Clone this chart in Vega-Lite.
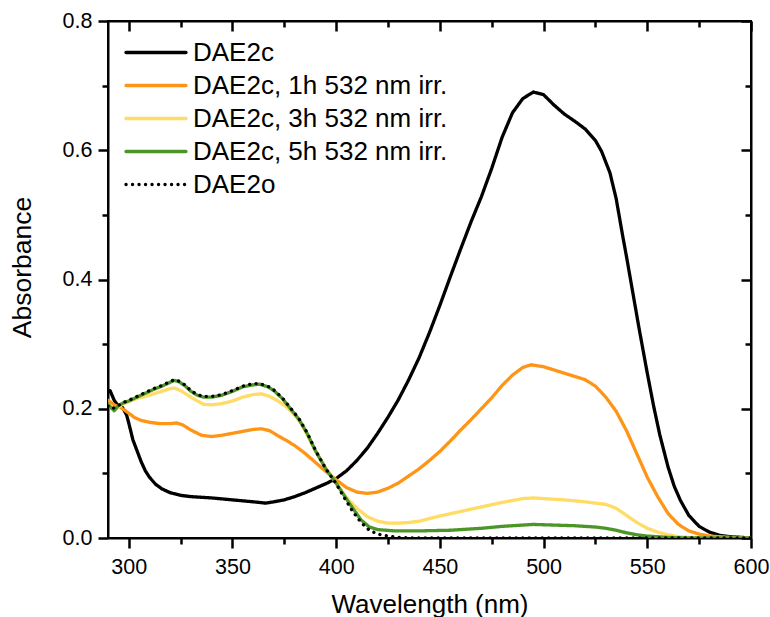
{
  "$schema": "https://vega.github.io/schema/vega-lite/v6.json",
  "autosize": {"type": "none"},
  "width": 643,
  "height": 517,
  "padding": {"left": 108, "top": 21, "right": 19, "bottom": 79},
  "config": {
    "font": "Liberation Sans",
    "view": {"stroke": "black", "strokeWidth": 2},
    "axis": {"grid": false, "tickWidth": 2.5}
  },
  "data": {"values": [
    {"series":"DAE2c","wavelength":290,"absorbance":0.226},{"series":"DAE2c","wavelength":291,"absorbance":0.228},{"series":"DAE2c","wavelength":293,"absorbance":0.213},{"series":"DAE2c","wavelength":295,"absorbance":0.204},{"series":"DAE2c","wavelength":297,"absorbance":0.202},{"series":"DAE2c","wavelength":299,"absorbance":0.19},{"series":"DAE2c","wavelength":300,"absorbance":0.178},{"series":"DAE2c","wavelength":302,"absorbance":0.152},{"series":"DAE2c","wavelength":304,"absorbance":0.135},{"series":"DAE2c","wavelength":306,"absorbance":0.118},{"series":"DAE2c","wavelength":308,"absorbance":0.104},{"series":"DAE2c","wavelength":310,"absorbance":0.094},{"series":"DAE2c","wavelength":313,"absorbance":0.083},{"series":"DAE2c","wavelength":316,"absorbance":0.076},{"series":"DAE2c","wavelength":320,"absorbance":0.07},{"series":"DAE2c","wavelength":325,"absorbance":0.066},{"series":"DAE2c","wavelength":330,"absorbance":0.064},{"series":"DAE2c","wavelength":340,"absorbance":0.062},{"series":"DAE2c","wavelength":350,"absorbance":0.059},{"series":"DAE2c","wavelength":360,"absorbance":0.056},{"series":"DAE2c","wavelength":366,"absorbance":0.054},{"series":"DAE2c","wavelength":370,"absorbance":0.056},{"series":"DAE2c","wavelength":375,"absorbance":0.059},{"series":"DAE2c","wavelength":380,"absorbance":0.064},{"series":"DAE2c","wavelength":385,"absorbance":0.07},{"series":"DAE2c","wavelength":390,"absorbance":0.077},{"series":"DAE2c","wavelength":395,"absorbance":0.084},{"series":"DAE2c","wavelength":400,"absorbance":0.092},{"series":"DAE2c","wavelength":405,"absorbance":0.104},{"series":"DAE2c","wavelength":410,"absorbance":0.12},{"series":"DAE2c","wavelength":415,"absorbance":0.139},{"series":"DAE2c","wavelength":420,"absorbance":0.162},{"series":"DAE2c","wavelength":425,"absorbance":0.187},{"series":"DAE2c","wavelength":430,"absorbance":0.214},{"series":"DAE2c","wavelength":435,"absorbance":0.245},{"series":"DAE2c","wavelength":440,"absorbance":0.279},{"series":"DAE2c","wavelength":445,"absorbance":0.318},{"series":"DAE2c","wavelength":450,"absorbance":0.36},{"series":"DAE2c","wavelength":455,"absorbance":0.404},{"series":"DAE2c","wavelength":460,"absorbance":0.447},{"series":"DAE2c","wavelength":465,"absorbance":0.489},{"series":"DAE2c","wavelength":470,"absorbance":0.528},{"series":"DAE2c","wavelength":475,"absorbance":0.572},{"series":"DAE2c","wavelength":480,"absorbance":0.62},{"series":"DAE2c","wavelength":485,"absorbance":0.658},{"series":"DAE2c","wavelength":490,"absorbance":0.68},{"series":"DAE2c","wavelength":495,"absorbance":0.69},{"series":"DAE2c","wavelength":500,"absorbance":0.686},{"series":"DAE2c","wavelength":505,"absorbance":0.67},{"series":"DAE2c","wavelength":510,"absorbance":0.656},{"series":"DAE2c","wavelength":515,"absorbance":0.645},{"series":"DAE2c","wavelength":520,"absorbance":0.633},{"series":"DAE2c","wavelength":525,"absorbance":0.615},{"series":"DAE2c","wavelength":528,"absorbance":0.598},{"series":"DAE2c","wavelength":532,"absorbance":0.565},{"series":"DAE2c","wavelength":535,"absorbance":0.525},{"series":"DAE2c","wavelength":538,"absorbance":0.47},{"series":"DAE2c","wavelength":540,"absorbance":0.435},{"series":"DAE2c","wavelength":543,"absorbance":0.38},{"series":"DAE2c","wavelength":546,"absorbance":0.325},{"series":"DAE2c","wavelength":550,"absorbance":0.255},{"series":"DAE2c","wavelength":553,"absorbance":0.205},{"series":"DAE2c","wavelength":556,"absorbance":0.16},{"series":"DAE2c","wavelength":560,"absorbance":0.11},{"series":"DAE2c","wavelength":563,"absorbance":0.08},{"series":"DAE2c","wavelength":566,"absorbance":0.058},{"series":"DAE2c","wavelength":570,"absorbance":0.035},{"series":"DAE2c","wavelength":575,"absorbance":0.018},{"series":"DAE2c","wavelength":580,"absorbance":0.009},{"series":"DAE2c","wavelength":585,"absorbance":0.004},{"series":"DAE2c","wavelength":590,"absorbance":0.002},{"series":"DAE2c","wavelength":600,"absorbance":0.0},

    {"series":"DAE2c, 1h 532 nm irr.","wavelength":290,"absorbance":0.213},{"series":"DAE2c, 1h 532 nm irr.","wavelength":293,"absorbance":0.206},{"series":"DAE2c, 1h 532 nm irr.","wavelength":296,"absorbance":0.202},{"series":"DAE2c, 1h 532 nm irr.","wavelength":298,"absorbance":0.198},{"series":"DAE2c, 1h 532 nm irr.","wavelength":300,"absorbance":0.193},{"series":"DAE2c, 1h 532 nm irr.","wavelength":303,"absorbance":0.186},{"series":"DAE2c, 1h 532 nm irr.","wavelength":306,"absorbance":0.182},{"series":"DAE2c, 1h 532 nm irr.","wavelength":310,"absorbance":0.179},{"series":"DAE2c, 1h 532 nm irr.","wavelength":315,"absorbance":0.177},{"series":"DAE2c, 1h 532 nm irr.","wavelength":320,"absorbance":0.177},{"series":"DAE2c, 1h 532 nm irr.","wavelength":323,"absorbance":0.178},{"series":"DAE2c, 1h 532 nm irr.","wavelength":326,"absorbance":0.175},{"series":"DAE2c, 1h 532 nm irr.","wavelength":330,"absorbance":0.167},{"series":"DAE2c, 1h 532 nm irr.","wavelength":335,"absorbance":0.159},{"series":"DAE2c, 1h 532 nm irr.","wavelength":340,"absorbance":0.157},{"series":"DAE2c, 1h 532 nm irr.","wavelength":345,"absorbance":0.159},{"series":"DAE2c, 1h 532 nm irr.","wavelength":350,"absorbance":0.162},{"series":"DAE2c, 1h 532 nm irr.","wavelength":355,"absorbance":0.165},{"series":"DAE2c, 1h 532 nm irr.","wavelength":360,"absorbance":0.168},{"series":"DAE2c, 1h 532 nm irr.","wavelength":364,"absorbance":0.169},{"series":"DAE2c, 1h 532 nm irr.","wavelength":368,"absorbance":0.166},{"series":"DAE2c, 1h 532 nm irr.","wavelength":372,"absorbance":0.158},{"series":"DAE2c, 1h 532 nm irr.","wavelength":376,"absorbance":0.151},{"series":"DAE2c, 1h 532 nm irr.","wavelength":380,"absorbance":0.143},{"series":"DAE2c, 1h 532 nm irr.","wavelength":385,"absorbance":0.131},{"series":"DAE2c, 1h 532 nm irr.","wavelength":390,"absorbance":0.117},{"series":"DAE2c, 1h 532 nm irr.","wavelength":395,"absorbance":0.103},{"series":"DAE2c, 1h 532 nm irr.","wavelength":400,"absorbance":0.09},{"series":"DAE2c, 1h 532 nm irr.","wavelength":405,"absorbance":0.078},{"series":"DAE2c, 1h 532 nm irr.","wavelength":410,"absorbance":0.071},{"series":"DAE2c, 1h 532 nm irr.","wavelength":415,"absorbance":0.069},{"series":"DAE2c, 1h 532 nm irr.","wavelength":420,"absorbance":0.071},{"series":"DAE2c, 1h 532 nm irr.","wavelength":425,"absorbance":0.077},{"series":"DAE2c, 1h 532 nm irr.","wavelength":430,"absorbance":0.085},{"series":"DAE2c, 1h 532 nm irr.","wavelength":435,"absorbance":0.096},{"series":"DAE2c, 1h 532 nm irr.","wavelength":440,"absorbance":0.107},{"series":"DAE2c, 1h 532 nm irr.","wavelength":445,"absorbance":0.12},{"series":"DAE2c, 1h 532 nm irr.","wavelength":450,"absorbance":0.134},{"series":"DAE2c, 1h 532 nm irr.","wavelength":455,"absorbance":0.15},{"series":"DAE2c, 1h 532 nm irr.","wavelength":460,"absorbance":0.167},{"series":"DAE2c, 1h 532 nm irr.","wavelength":465,"absorbance":0.183},{"series":"DAE2c, 1h 532 nm irr.","wavelength":470,"absorbance":0.2},{"series":"DAE2c, 1h 532 nm irr.","wavelength":475,"absorbance":0.217},{"series":"DAE2c, 1h 532 nm irr.","wavelength":480,"absorbance":0.236},{"series":"DAE2c, 1h 532 nm irr.","wavelength":485,"absorbance":0.252},{"series":"DAE2c, 1h 532 nm irr.","wavelength":490,"absorbance":0.264},{"series":"DAE2c, 1h 532 nm irr.","wavelength":494,"absorbance":0.268},{"series":"DAE2c, 1h 532 nm irr.","wavelength":500,"absorbance":0.265},{"series":"DAE2c, 1h 532 nm irr.","wavelength":505,"absorbance":0.26},{"series":"DAE2c, 1h 532 nm irr.","wavelength":510,"absorbance":0.255},{"series":"DAE2c, 1h 532 nm irr.","wavelength":515,"absorbance":0.25},{"series":"DAE2c, 1h 532 nm irr.","wavelength":520,"absorbance":0.245},{"series":"DAE2c, 1h 532 nm irr.","wavelength":525,"absorbance":0.235},{"series":"DAE2c, 1h 532 nm irr.","wavelength":530,"absorbance":0.218},{"series":"DAE2c, 1h 532 nm irr.","wavelength":535,"absorbance":0.196},{"series":"DAE2c, 1h 532 nm irr.","wavelength":540,"absorbance":0.166},{"series":"DAE2c, 1h 532 nm irr.","wavelength":545,"absorbance":0.13},{"series":"DAE2c, 1h 532 nm irr.","wavelength":550,"absorbance":0.094},{"series":"DAE2c, 1h 532 nm irr.","wavelength":555,"absorbance":0.064},{"series":"DAE2c, 1h 532 nm irr.","wavelength":560,"absorbance":0.038},{"series":"DAE2c, 1h 532 nm irr.","wavelength":565,"absorbance":0.021},{"series":"DAE2c, 1h 532 nm irr.","wavelength":570,"absorbance":0.011},{"series":"DAE2c, 1h 532 nm irr.","wavelength":575,"absorbance":0.006},{"series":"DAE2c, 1h 532 nm irr.","wavelength":580,"absorbance":0.003},{"series":"DAE2c, 1h 532 nm irr.","wavelength":590,"absorbance":0.001},{"series":"DAE2c, 1h 532 nm irr.","wavelength":600,"absorbance":0.0},

    {"series":"DAE2c, 3h 532 nm irr.","wavelength":290,"absorbance":0.207},{"series":"DAE2c, 3h 532 nm irr.","wavelength":292,"absorbance":0.202},{"series":"DAE2c, 3h 532 nm irr.","wavelength":294,"absorbance":0.2},{"series":"DAE2c, 3h 532 nm irr.","wavelength":297,"absorbance":0.207},{"series":"DAE2c, 3h 532 nm irr.","wavelength":300,"absorbance":0.211},{"series":"DAE2c, 3h 532 nm irr.","wavelength":304,"absorbance":0.216},{"series":"DAE2c, 3h 532 nm irr.","wavelength":308,"absorbance":0.219},{"series":"DAE2c, 3h 532 nm irr.","wavelength":312,"absorbance":0.223},{"series":"DAE2c, 3h 532 nm irr.","wavelength":316,"absorbance":0.227},{"series":"DAE2c, 3h 532 nm irr.","wavelength":320,"absorbance":0.231},{"series":"DAE2c, 3h 532 nm irr.","wavelength":322,"absorbance":0.232},{"series":"DAE2c, 3h 532 nm irr.","wavelength":325,"absorbance":0.228},{"series":"DAE2c, 3h 532 nm irr.","wavelength":328,"absorbance":0.222},{"series":"DAE2c, 3h 532 nm irr.","wavelength":332,"absorbance":0.214},{"series":"DAE2c, 3h 532 nm irr.","wavelength":336,"absorbance":0.207},{"series":"DAE2c, 3h 532 nm irr.","wavelength":340,"absorbance":0.206},{"series":"DAE2c, 3h 532 nm irr.","wavelength":345,"absorbance":0.208},{"series":"DAE2c, 3h 532 nm irr.","wavelength":350,"absorbance":0.212},{"series":"DAE2c, 3h 532 nm irr.","wavelength":355,"absorbance":0.218},{"series":"DAE2c, 3h 532 nm irr.","wavelength":360,"absorbance":0.222},{"series":"DAE2c, 3h 532 nm irr.","wavelength":364,"absorbance":0.223},{"series":"DAE2c, 3h 532 nm irr.","wavelength":368,"absorbance":0.219},{"series":"DAE2c, 3h 532 nm irr.","wavelength":372,"absorbance":0.212},{"series":"DAE2c, 3h 532 nm irr.","wavelength":376,"absorbance":0.203},{"series":"DAE2c, 3h 532 nm irr.","wavelength":380,"absorbance":0.19},{"series":"DAE2c, 3h 532 nm irr.","wavelength":383,"absorbance":0.178},{"series":"DAE2c, 3h 532 nm irr.","wavelength":386,"absorbance":0.16},{"series":"DAE2c, 3h 532 nm irr.","wavelength":390,"absorbance":0.135},{"series":"DAE2c, 3h 532 nm irr.","wavelength":395,"absorbance":0.108},{"series":"DAE2c, 3h 532 nm irr.","wavelength":400,"absorbance":0.085},{"series":"DAE2c, 3h 532 nm irr.","wavelength":403,"absorbance":0.071},{"series":"DAE2c, 3h 532 nm irr.","wavelength":406,"absorbance":0.059},{"series":"DAE2c, 3h 532 nm irr.","wavelength":410,"absorbance":0.046},{"series":"DAE2c, 3h 532 nm irr.","wavelength":415,"absorbance":0.033},{"series":"DAE2c, 3h 532 nm irr.","wavelength":420,"absorbance":0.026},{"series":"DAE2c, 3h 532 nm irr.","wavelength":425,"absorbance":0.023},{"series":"DAE2c, 3h 532 nm irr.","wavelength":430,"absorbance":0.023},{"series":"DAE2c, 3h 532 nm irr.","wavelength":435,"absorbance":0.024},{"series":"DAE2c, 3h 532 nm irr.","wavelength":440,"absorbance":0.026},{"series":"DAE2c, 3h 532 nm irr.","wavelength":450,"absorbance":0.034},{"series":"DAE2c, 3h 532 nm irr.","wavelength":460,"absorbance":0.041},{"series":"DAE2c, 3h 532 nm irr.","wavelength":470,"absorbance":0.048},{"series":"DAE2c, 3h 532 nm irr.","wavelength":480,"absorbance":0.055},{"series":"DAE2c, 3h 532 nm irr.","wavelength":490,"absorbance":0.061},{"series":"DAE2c, 3h 532 nm irr.","wavelength":495,"absorbance":0.062},{"series":"DAE2c, 3h 532 nm irr.","wavelength":500,"absorbance":0.061},{"series":"DAE2c, 3h 532 nm irr.","wavelength":510,"absorbance":0.059},{"series":"DAE2c, 3h 532 nm irr.","wavelength":520,"absorbance":0.056},{"series":"DAE2c, 3h 532 nm irr.","wavelength":530,"absorbance":0.052},{"series":"DAE2c, 3h 532 nm irr.","wavelength":535,"absorbance":0.046},{"series":"DAE2c, 3h 532 nm irr.","wavelength":540,"absorbance":0.035},{"series":"DAE2c, 3h 532 nm irr.","wavelength":545,"absorbance":0.024},{"series":"DAE2c, 3h 532 nm irr.","wavelength":550,"absorbance":0.015},{"series":"DAE2c, 3h 532 nm irr.","wavelength":555,"absorbance":0.009},{"series":"DAE2c, 3h 532 nm irr.","wavelength":560,"absorbance":0.005},{"series":"DAE2c, 3h 532 nm irr.","wavelength":565,"absorbance":0.002},{"series":"DAE2c, 3h 532 nm irr.","wavelength":570,"absorbance":0.001},{"series":"DAE2c, 3h 532 nm irr.","wavelength":580,"absorbance":0.0},{"series":"DAE2c, 3h 532 nm irr.","wavelength":600,"absorbance":0.0},

    {"series":"DAE2c, 5h 532 nm irr.","wavelength":290,"absorbance":0.207},{"series":"DAE2c, 5h 532 nm irr.","wavelength":291,"absorbance":0.203},{"series":"DAE2c, 5h 532 nm irr.","wavelength":293,"absorbance":0.197},{"series":"DAE2c, 5h 532 nm irr.","wavelength":295,"absorbance":0.205},{"series":"DAE2c, 5h 532 nm irr.","wavelength":298,"absorbance":0.21},{"series":"DAE2c, 5h 532 nm irr.","wavelength":300,"absorbance":0.212},{"series":"DAE2c, 5h 532 nm irr.","wavelength":304,"absorbance":0.218},{"series":"DAE2c, 5h 532 nm irr.","wavelength":308,"absorbance":0.224},{"series":"DAE2c, 5h 532 nm irr.","wavelength":312,"absorbance":0.23},{"series":"DAE2c, 5h 532 nm irr.","wavelength":316,"absorbance":0.235},{"series":"DAE2c, 5h 532 nm irr.","wavelength":320,"absorbance":0.241},{"series":"DAE2c, 5h 532 nm irr.","wavelength":322,"absorbance":0.244},{"series":"DAE2c, 5h 532 nm irr.","wavelength":324,"absorbance":0.242},{"series":"DAE2c, 5h 532 nm irr.","wavelength":327,"absorbance":0.236},{"series":"DAE2c, 5h 532 nm irr.","wavelength":330,"absorbance":0.227},{"series":"DAE2c, 5h 532 nm irr.","wavelength":333,"absorbance":0.221},{"series":"DAE2c, 5h 532 nm irr.","wavelength":336,"absorbance":0.218},{"series":"DAE2c, 5h 532 nm irr.","wavelength":340,"absorbance":0.218},{"series":"DAE2c, 5h 532 nm irr.","wavelength":345,"absorbance":0.221},{"series":"DAE2c, 5h 532 nm irr.","wavelength":350,"absorbance":0.227},{"series":"DAE2c, 5h 532 nm irr.","wavelength":355,"absorbance":0.234},{"series":"DAE2c, 5h 532 nm irr.","wavelength":360,"absorbance":0.237},{"series":"DAE2c, 5h 532 nm irr.","wavelength":363,"absorbance":0.238},{"series":"DAE2c, 5h 532 nm irr.","wavelength":367,"absorbance":0.234},{"series":"DAE2c, 5h 532 nm irr.","wavelength":370,"absorbance":0.228},{"series":"DAE2c, 5h 532 nm irr.","wavelength":374,"absorbance":0.216},{"series":"DAE2c, 5h 532 nm irr.","wavelength":378,"absorbance":0.2},{"series":"DAE2c, 5h 532 nm irr.","wavelength":382,"absorbance":0.184},{"series":"DAE2c, 5h 532 nm irr.","wavelength":386,"absorbance":0.162},{"series":"DAE2c, 5h 532 nm irr.","wavelength":390,"absorbance":0.135},{"series":"DAE2c, 5h 532 nm irr.","wavelength":395,"absorbance":0.107},{"series":"DAE2c, 5h 532 nm irr.","wavelength":400,"absorbance":0.085},{"series":"DAE2c, 5h 532 nm irr.","wavelength":404,"absorbance":0.065},{"series":"DAE2c, 5h 532 nm irr.","wavelength":408,"absorbance":0.046},{"series":"DAE2c, 5h 532 nm irr.","wavelength":412,"absorbance":0.028},{"series":"DAE2c, 5h 532 nm irr.","wavelength":416,"absorbance":0.017},{"series":"DAE2c, 5h 532 nm irr.","wavelength":420,"absorbance":0.013},{"series":"DAE2c, 5h 532 nm irr.","wavelength":428,"absorbance":0.011},{"series":"DAE2c, 5h 532 nm irr.","wavelength":440,"absorbance":0.011},{"series":"DAE2c, 5h 532 nm irr.","wavelength":455,"absorbance":0.012},{"series":"DAE2c, 5h 532 nm irr.","wavelength":470,"absorbance":0.015},{"series":"DAE2c, 5h 532 nm irr.","wavelength":480,"absorbance":0.018},{"series":"DAE2c, 5h 532 nm irr.","wavelength":490,"absorbance":0.02},{"series":"DAE2c, 5h 532 nm irr.","wavelength":495,"absorbance":0.021},{"series":"DAE2c, 5h 532 nm irr.","wavelength":505,"absorbance":0.02},{"series":"DAE2c, 5h 532 nm irr.","wavelength":515,"absorbance":0.019},{"series":"DAE2c, 5h 532 nm irr.","wavelength":525,"absorbance":0.017},{"series":"DAE2c, 5h 532 nm irr.","wavelength":530,"absorbance":0.015},{"series":"DAE2c, 5h 532 nm irr.","wavelength":535,"absorbance":0.012},{"series":"DAE2c, 5h 532 nm irr.","wavelength":540,"absorbance":0.008},{"series":"DAE2c, 5h 532 nm irr.","wavelength":545,"absorbance":0.005},{"series":"DAE2c, 5h 532 nm irr.","wavelength":550,"absorbance":0.003},{"series":"DAE2c, 5h 532 nm irr.","wavelength":560,"absorbance":0.001},{"series":"DAE2c, 5h 532 nm irr.","wavelength":570,"absorbance":0.0},{"series":"DAE2c, 5h 532 nm irr.","wavelength":600,"absorbance":0.0},

    {"series":"DAE2o","wavelength":290,"absorbance":0.204},{"series":"DAE2o","wavelength":292,"absorbance":0.2},{"series":"DAE2o","wavelength":294,"absorbance":0.203},{"series":"DAE2o","wavelength":297,"absorbance":0.209},{"series":"DAE2o","wavelength":300,"absorbance":0.213},{"series":"DAE2o","wavelength":304,"absorbance":0.219},{"series":"DAE2o","wavelength":308,"absorbance":0.225},{"series":"DAE2o","wavelength":312,"absorbance":0.231},{"series":"DAE2o","wavelength":316,"absorbance":0.236},{"series":"DAE2o","wavelength":320,"absorbance":0.242},{"series":"DAE2o","wavelength":322,"absorbance":0.245},{"series":"DAE2o","wavelength":324,"absorbance":0.243},{"series":"DAE2o","wavelength":327,"absorbance":0.237},{"series":"DAE2o","wavelength":330,"absorbance":0.228},{"series":"DAE2o","wavelength":333,"absorbance":0.222},{"series":"DAE2o","wavelength":336,"absorbance":0.219},{"series":"DAE2o","wavelength":340,"absorbance":0.219},{"series":"DAE2o","wavelength":345,"absorbance":0.222},{"series":"DAE2o","wavelength":350,"absorbance":0.228},{"series":"DAE2o","wavelength":355,"absorbance":0.235},{"series":"DAE2o","wavelength":360,"absorbance":0.239},{"series":"DAE2o","wavelength":363,"absorbance":0.239},{"series":"DAE2o","wavelength":367,"absorbance":0.235},{"series":"DAE2o","wavelength":370,"absorbance":0.229},{"series":"DAE2o","wavelength":374,"absorbance":0.217},{"series":"DAE2o","wavelength":378,"absorbance":0.201},{"series":"DAE2o","wavelength":382,"absorbance":0.185},{"series":"DAE2o","wavelength":386,"absorbance":0.163},{"series":"DAE2o","wavelength":390,"absorbance":0.136},{"series":"DAE2o","wavelength":395,"absorbance":0.107},{"series":"DAE2o","wavelength":400,"absorbance":0.084},{"series":"DAE2o","wavelength":404,"absorbance":0.062},{"series":"DAE2o","wavelength":408,"absorbance":0.041},{"series":"DAE2o","wavelength":412,"absorbance":0.024},{"series":"DAE2o","wavelength":416,"absorbance":0.012},{"series":"DAE2o","wavelength":420,"absorbance":0.006},{"series":"DAE2o","wavelength":425,"absorbance":0.003},{"series":"DAE2o","wavelength":430,"absorbance":0.001},{"series":"DAE2o","wavelength":440,"absorbance":0.0},{"series":"DAE2o","wavelength":500,"absorbance":0.0},{"series":"DAE2o","wavelength":600,"absorbance":0.0}
  ]},
  "layer": [
    {
      "mark": {"type": "line", "strokeWidth": 3.3, "strokeCap": "round", "strokeJoin": "round", "clip": true},
      "encoding": {
        "x": {"field": "wavelength", "type": "quantitative", "title": "Wavelength (nm)",
          "scale": {"domain": [290, 600], "nice": false, "zero": false},
          "axis": {"orient": "bottom", "values": [300, 325, 350, 375, 400, 425, 450, 475, 500, 525, 550, 575, 600],
            "tickColor": "black", "domainColor": "black", "domainWidth": 2, "labelColor": "black", "titleColor": "black", "titleFontWeight": "normal",
            "tickSize": {"condition": {"test": "datum.value % 50 !== 0", "value": 6}, "value": 10},
            "labelExpr": "datum.value % 50 === 0 ? datum.label : ''",
            "labelFontSize": 21.5, "labelPadding": 25, "labelBaseline": "alphabetic", "labelFlush": false, "titleFontSize": 26, "titleY": 74, "titleBaseline": "alphabetic"}},
        "y": {"field": "absorbance", "type": "quantitative", "title": "Absorbance",
          "scale": {"domain": [0, 0.8], "nice": false, "zero": false},
          "axis": {"orient": "left", "values": [0, 0.1, 0.2, 0.3, 0.4, 0.5, 0.6, 0.7, 0.8],
            "tickColor": "black", "domainColor": "black", "domainWidth": 2, "labelColor": "black", "titleColor": "black", "titleFontWeight": "normal",
            "tickSize": {"condition": {"test": "round(datum.value * 10) % 2 !== 0", "value": 6}, "value": 10},
            "labelExpr": "round(datum.value * 10) % 2 === 0 ? format(datum.value, '.1f') : ''",
            "labelFontSize": 21.5, "labelPadding": 6, "labelFlush": false, "titleFontSize": 26.5, "titleX": -86, "titleY": 246, "titleBaseline": "middle", "titleAngle": 270}},
        "color": {"field": "series", "type": "nominal", "sort": null,
          "scale": {"domain": ["DAE2c", "DAE2c, 1h 532 nm irr.", "DAE2c, 3h 532 nm irr.", "DAE2c, 5h 532 nm irr.", "DAE2o"], "range": ["#000000", "#FF9517", "#FFDC66", "#4C9628", "#000000"]},
          "legend": {"title": null, "orient": "none", "legendX": 16, "legendY": 15, "padding": 0, "symbolType": "stroke", "symbolSize": 3600, "symbolStrokeWidth": 3.3, "clipHeight": 33, "rowPadding": 0, "labelFontSize": 26, "labelColor": "black", "labelOffset": 5, "labelLimit": 400,
            "encode": {"symbols": {"update": {"strokeCap": {"value": "round"}}}}}},
        "strokeDash": {"field": "series", "type": "nominal", "sort": null,
          "scale": {"domain": ["DAE2c", "DAE2c, 1h 532 nm irr.", "DAE2c, 3h 532 nm irr.", "DAE2c, 5h 532 nm irr.", "DAE2o"], "range": [[1, 0], [1, 0], [1, 0], [1, 0], [0.1, 6.4]]},
          "legend": {"title": null}}
      }
    },
    {
      "mark": {"type": "point", "opacity": 0},
      "encoding": {
        "x": {"field": "wavelength", "type": "quantitative",
          "scale": {"domain": [290, 600], "nice": false, "zero": false},
          "axis": {"orient": "top", "values": [300, 325, 350, 375, 400, 425, 450, 475, 500, 525, 550, 575, 600],
            "tickColor": "black", "domainColor": "black", "domainWidth": 2,
            "tickSize": {"condition": {"test": "datum.value % 50 !== 0", "value": -6}, "value": -10},
            "labels": false, "title": ""}},
        "y": {"field": "absorbance", "type": "quantitative",
          "scale": {"domain": [0, 0.8], "nice": false, "zero": false},
          "axis": {"orient": "right", "values": [0, 0.1, 0.2, 0.3, 0.4, 0.5, 0.6, 0.7, 0.8],
            "tickColor": "black", "domainColor": "black", "domainWidth": 2,
            "tickSize": {"condition": {"test": "round(datum.value * 10) % 2 !== 0", "value": -6}, "value": -10},
            "labels": false, "title": ""}}
      }
    }
  ],
  "resolve": {"scale": {"x": "independent", "y": "independent"}, "axis": {"x": "independent", "y": "independent"}}
}
